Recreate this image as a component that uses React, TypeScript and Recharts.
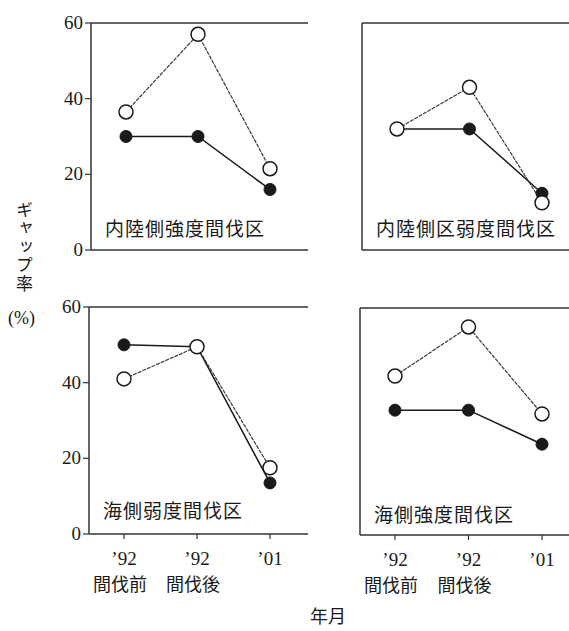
import { Line, LineChart, XAxis, YAxis } from "recharts";

// x categories: '92 before thinning, '92 after thinning, '01
const periodKeys = ["92pre", "92post", "01"];
const periodYears = ["’92", "’92", "’01"];
const periodNotes = ["間伐前", "間伐後", ""];
const yTicks = [0, 20, 40, 60];

// gap rate (%) – open circles / filled circles
const inlandStrongOpen = [36.5, 57, 21.5];
const inlandStrongFilled = [30, 30, 16];
const inlandWeakOpen = [32, 43, 12.5];
const inlandWeakFilled = [32, 32, 15];
const coastWeakOpen = [41, 49.5, 17.5];
const coastWeakFilled = [50, 49.5, 13.5];
const coastStrongOpen = [42, 55, 32];
const coastStrongFilled = [33, 33, 24];

const INK = "#1a1a1a";
const FRAME = "#333";
const SERIF = "'Liberation Serif', 'DejaVu Serif', serif";
const JP = "'Noto Sans CJK JP', sans-serif";

const toRows = (open: number[], filled: number[]) =>
  periodKeys.map((k, i) => ({ key: k, open: open[i], filled: filled[i] }));

function PeriodTick(props: any) {
  const { x, y, index } = props;
  return (
    <g>
      <text x={x} y={y + 24} textAnchor="middle" fontFamily={SERIF} fontSize={19} fill={INK}>
        {periodYears[index]}
      </text>
      <text x={x - 4} y={y + 50} textAnchor="middle" fontFamily={JP} fontSize={18} fill={INK}>
        {periodNotes[index]}
      </text>
    </g>
  );
}

function ValueTick(props: any) {
  const { x, y, payload } = props;
  return (
    <text x={x} y={y + 6} textAnchor="end" fontFamily={SERIF} fontSize={19} fill={INK}>
      {payload.value}
    </text>
  );
}

type PanelProps = {
  open: number[];
  filled: number[];
  left: number;
  top: number;
  width: number;
  yWidth: number;
  showY: boolean;
  showX: boolean;
  title: string;
  titleTop: number;
};

function Panel({ open, filled, left, top, width, yWidth, showY, showX, title, titleTop }: PanelProps) {
  const data = toRows(open, filled);
  return (
    <div style={{ position: "absolute", left, top }}>
      <LineChart
        width={width}
        height={340}
        data={data}
        margin={{ top: 22, right: 20, bottom: 0, left: 0 }}
      >
        <XAxis
          dataKey="key"
          scale="point"
          padding={{ left: 35, right: 38 }}
          height={90}
          axisLine={{ stroke: FRAME, strokeWidth: 1.5 }}
          tickLine={{ stroke: FRAME, strokeWidth: 1.2 }}
          tickSize={5}
          tick={showX ? <PeriodTick /> : false}
          interval={0}
        />
        <XAxis
          xAxisId="top"
          orientation="top"
          dataKey="key"
          scale="point"
          padding={{ left: 35, right: 38 }}
          height={1}
          axisLine={{ stroke: FRAME, strokeWidth: 1.5 }}
          tickLine={false}
          tick={false}
        />
        <YAxis
          domain={[0, 60]}
          ticks={yTicks}
          width={yWidth}
          axisLine={{ stroke: FRAME, strokeWidth: 1.5 }}
          tickLine={{ stroke: FRAME, strokeWidth: 1.2 }}
          tickSize={6}
          tickMargin={2}
          tick={showY ? <ValueTick /> : false}
        />
        <YAxis
          yAxisId="r"
          orientation="right"
          domain={[0, 60]}
          width={0}
          axisLine={{ stroke: FRAME, strokeWidth: 1.5 }}
          tickLine={false}
          tick={false}
        />
        <Line
          dataKey="filled"
          stroke={INK}
          strokeWidth={1.5}
          dot={{ r: 6, fill: INK, stroke: INK, strokeWidth: 1 }}
          isAnimationActive={false}
        />
        <Line
          dataKey="open"
          stroke="#3a3a3a"
          strokeWidth={1.2}
          strokeDasharray="4 1"
          dot={{ r: 7, fill: "#fff", stroke: INK, strokeWidth: 1.5, strokeDasharray: "0" }}
          isAnimationActive={false}
        />
      </LineChart>
      <div
        style={{
          position: "absolute",
          left: yWidth + 14,
          top: titleTop,
          fontFamily: JP,
          fontSize: 19,
          letterSpacing: 1,
          color: INK,
          whiteSpace: "nowrap",
          lineHeight: "20px",
        }}
      >
        {title}
      </div>
    </div>
  );
}

export default function App() {
  return (
    <div
      style={{
        position: "fixed",
        left: 0,
        top: 0,
        width: 569,
        height: 631,
        overflow: "hidden",
        background: "#fff",
      }}
    >
      <Panel
        open={inlandStrongOpen}
        filled={inlandStrongFilled}
        left={0}
        top={0}
        width={328}
        yWidth={91}
        showY
        showX={false}
        title="内陸側強度間伐区"
        titleTop={218}
      />
      <Panel
        open={inlandWeakOpen}
        filled={inlandWeakFilled}
        left={300}
        top={0}
        width={300}
        yWidth={62}
        showY={false}
        showX={false}
        title="内陸側区弱度間伐区"
        titleTop={218}
      />
      <Panel
        open={coastWeakOpen}
        filled={coastWeakFilled}
        left={0}
        top={284}
        width={328}
        yWidth={89}
        showY
        showX
        title="海側弱度間伐区"
        titleTop={216}
      />
      <Panel
        open={coastStrongOpen}
        filled={coastStrongFilled}
        left={300}
        top={285}
        width={300}
        yWidth={60}
        showY={false}
        showX
        title="海側強度間伐区"
        titleTop={219}
      />
      <div
        style={{
          position: "absolute",
          left: 13,
          top: 201,
          width: 22,
          fontFamily: JP,
          fontSize: 17,
          lineHeight: "22px",
          letterSpacing: 1.5,
          writingMode: "vertical-rl",
          textOrientation: "upright",
          color: INK,
        }}
      >
        ギャップ率
      </div>
      <div
        style={{
          position: "absolute",
          left: 8,
          top: 308,
          fontFamily: SERIF,
          fontSize: 18,
          color: INK,
        }}
      >
        (%)
      </div>
      <div
        style={{
          position: "absolute",
          left: 310,
          top: 605,
          fontFamily: JP,
          fontSize: 18,
          lineHeight: "20px",
          color: INK,
        }}
      >
        年月
      </div>
    </div>
  );
}
